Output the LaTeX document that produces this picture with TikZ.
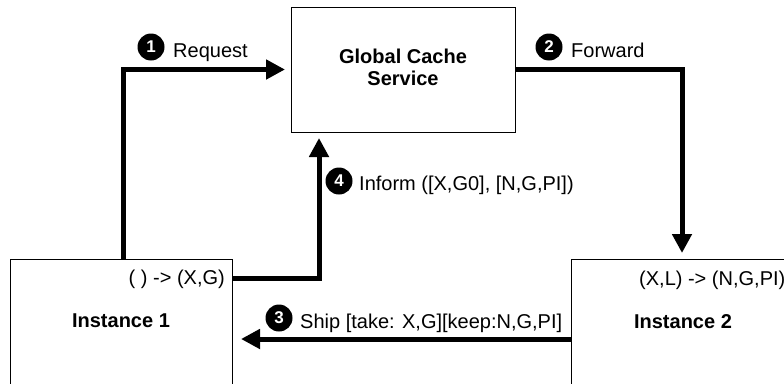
\documentclass[tikz,border=0pt]{standalone}
\usepackage{fontspec}
\setmainfont{Liberation Sans}
\usetikzlibrary{arrows.meta}
\begin{document}
\begin{tikzpicture}[x=1pt,y=-1pt,
  box/.style={draw=black, line width=1pt, inner sep=0pt, outer sep=0pt},
  conn/.style={line width=5pt, line join=miter, -{Triangle[length=19pt,width=19pt]}},
  badge/.style={circle, fill=black, text=white, minimum size=27pt, inner sep=0pt,
    font=\fontsize{17}{17}\selectfont\bfseries},
  lbl/.style={inner sep=0pt, font=\fontsize{20}{24}\selectfont},
  title/.style={inner sep=0pt, anchor=base, font=\fontsize{20}{24}\selectfont\bfseries}]
\clip (0,0) rectangle (784,383);
\fill[white] (0,0) rectangle (784,383);

% boxes
\node[box, anchor=north west, minimum width=224pt, minimum height=125pt] (gcs) at (291,7) {};
\node[title] (gcs1) at (403,63) {Global Cache};
\node[title] (gcs2) at (403,85) {Service};

\node[box, anchor=north west, minimum width=222pt, minimum height=160pt] (inst1) at (10,259) {};
\node[title] (inst1t) at (121,327) {Instance 1};
\node[lbl, anchor=base east] (inst1s) at (225,284) {( ) -> (X,G)};

\node[box, anchor=north west, minimum width=222pt, minimum height=160pt] (inst2) at (571,259) {};
\node[title] (inst2t) at (683,328) {Instance 2};
\node[lbl, anchor=base west] (inst2s) at (639,285) {(X,L) -> (N,G,PI)};

% connectors
\draw[conn, shorten >=6pt] ([xshift=2pt]inst1.north) |- (gcs.west);
\draw[conn, shorten >=6pt] (gcs.east) -| (inst2.north);
\draw[conn, shorten >=6pt] ([yshift=-19pt]inst1.north east) -| ([xshift=28pt]gcs.south west);
\draw[conn, shorten >=9pt] ([yshift=-80pt]inst2.north west) -- ([yshift=-80pt]inst1.north east);

% step labels
\node[badge] (b1) at (151,47) {1};
\node[lbl, anchor=base west] (l1) at (173,57) {Request};
\node[badge] (b2) at (549,47) {2};
\node[lbl, anchor=base west] (l2) at (571,57) {Forward};
\node[badge] (b4) at (339,181) {4};
\node[lbl, anchor=base west] (l4) at (359,190) {Inform ([X,G0], [N,G,PI])};
\node[badge] (b3) at (279,318) {3};
\node[lbl, anchor=base west] (l3) at (300,328) {Ship [take: X,G][keep:N,G,PI]};
\end{tikzpicture}
\end{document}
